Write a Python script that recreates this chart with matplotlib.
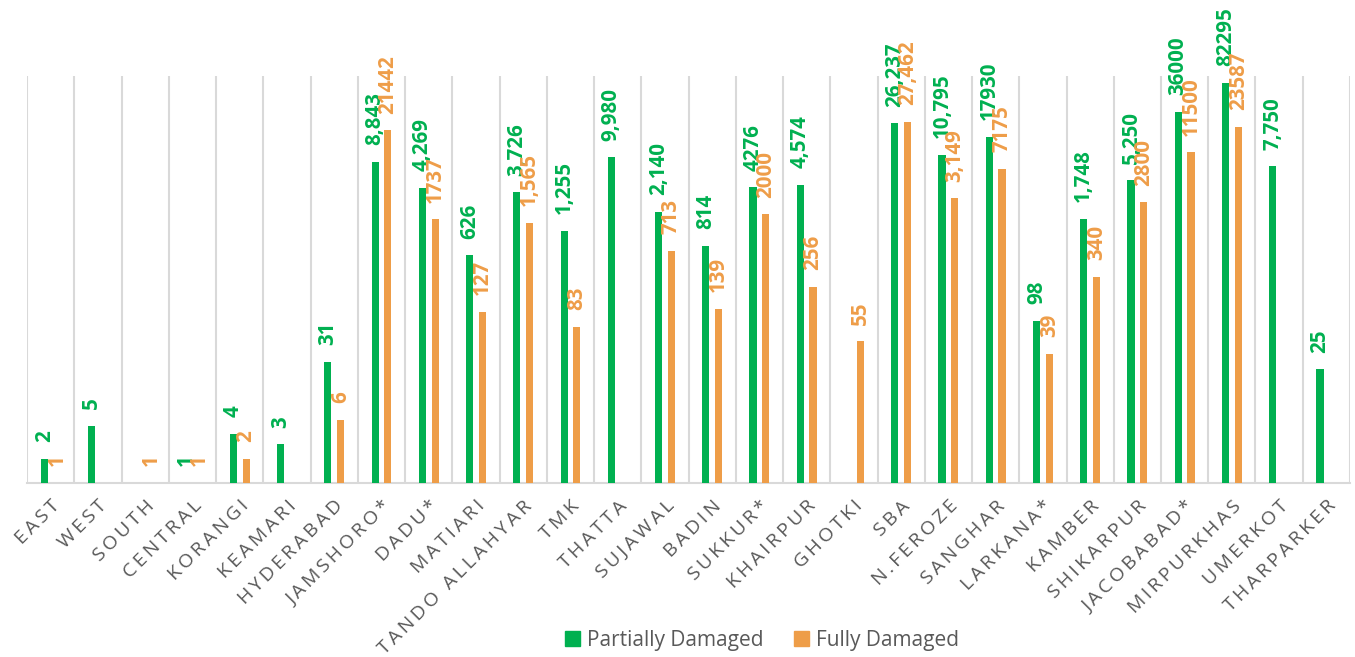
import numpy as np
import matplotlib
matplotlib.use("Agg")
import matplotlib.pyplot as plt
from matplotlib.patches import Patch

categories = ["EAST", "WEST", "SOUTH", "CENTRAL", "KORANGI", "KEAMARI", "HYDERABAD",
              "JAMSHORO*", "DADU*", "MATIARI", "TANDO ALLAHYAR", "TMK", "THATTA",
              "SUJAWAL", "BADIN", "SUKKUR*", "KHAIRPUR", "GHOTKI", "SBA", "N.FEROZE",
              "SANGHAR", "LARKANA*", "KAMBER", "SHIKARPUR", "JACOBABAD*", "MIRPURKHAS",
              "UMERKOT", "THARPARKER"]

nan = np.nan
partially = [2, 5, nan, 1, 4, 3, 31, 8843, 4269, 626, 3726, 1255, 9980, 2140, 814,
             4276, 4574, nan, 26237, 10795, 17930, 98, 1748, 5250, 36000, 82295, 7750, 25]
fully = [1, nan, 1, 1, 2, nan, 6, 21442, 1737, 127, 1565, 83, nan, 713, 139,
         2000, 256, 55, 27462, 3149, 7175, 39, 340, 2800, 11500, 23587, nan, nan]

partially_labels = ["2", "5", "", "1", "4", "3", "31", "8,843", "4,269", "626", "3,726",
                    "1,255", "9,980", "2,140", "814", "4276", "4,574", "", "26,237",
                    "10,795", "17930", "98", "1,748", "5,250", "36000", "82295", "7,750", "25"]
fully_labels = ["1", "", "1", "1", "2", "", "6", "21442", "1737", "127", "1,565", "83", "",
                "713", "139", "2000", "256", "55", "27,462", "3,149", "7175", "39", "340",
                "2800", "11500", "23587", "", ""]

GREEN = "#00B050"
ORANGE = "#EE9D48"
GRID = "#D9D9D9"
TEXT = "#595959"
FONT = ["Open Sans", "DejaVu Sans"]

fig = plt.figure(figsize=(13.55, 6.57), dpi=100)
ax = fig.add_axes([0.02, 0.2648, 0.9963 - 0.02, 0.8843 - 0.2648])

x = np.arange(len(categories))
w = 0.15
off = 0.135
ax.set_yscale("log")
ax.set_ylim(1, 1e5)
ax.set_xlim(-0.5, len(categories) - 0.5)

pv = np.array(partially, dtype=float)
fv = np.array(fully, dtype=float)
ax.bar(x - off, np.nan_to_num(pv, nan=1.0), width=w, bottom=0, color=GREEN, zorder=3)
ax.bar(x + off, np.nan_to_num(fv, nan=1.0), width=w, bottom=0, color=ORANGE, zorder=3)

for xi, v, lab in zip(x, pv, partially_labels):
    if lab:
        ax.annotate(lab, (xi - off, v), xytext=(0, 12), textcoords="offset points",
                    rotation=90, ha="center", va="bottom", color=GREEN,
                    fontsize=14.8, fontweight="bold", family=FONT,
                    annotation_clip=False, zorder=4)
for xi, v, lab in zip(x, fv, fully_labels):
    if lab:
        ax.annotate(lab, (xi + off, v), xytext=(0, 12), textcoords="offset points",
                    rotation=90, ha="center", va="bottom", color=ORANGE,
                    fontsize=14.8, fontweight="bold", family=FONT,
                    annotation_clip=False, zorder=4)

# category separators
ax.set_xticks(np.arange(-0.5, len(categories)), minor=True)
ax.grid(True, which="minor", axis="x", color=GRID, linewidth=1.5, zorder=0)
ax.grid(False, which="major")
ax.set_xticks(x)
ax.set_xticklabels(["\u2009".join(c) for c in categories], rotation=45, ha="right",
                   rotation_mode="anchor", fontsize=14, color=TEXT, family=FONT)
ax.tick_params(axis="x", which="both", length=0, pad=10)
ax.set_yticks([])
ax.yaxis.set_minor_locator(matplotlib.ticker.NullLocator())
for s in ["top", "left", "right"]:
    ax.spines[s].set_visible(False)
ax.spines["bottom"].set_color(GRID)
ax.spines["bottom"].set_linewidth(1.5)

handles = [Patch(color=GREEN, label="Partially Damaged"), Patch(color=ORANGE, label="Fully Damaged")]
fig.legend(handles=handles, loc="center", bbox_to_anchor=(0.5625, 0.025), ncol=2,
           frameon=False, prop={"family": FONT, "size": 15}, labelcolor=TEXT,
           handlelength=0.7, handleheight=0.7, handletextpad=0.35, columnspacing=1.45)

fig.savefig("out.png", dpi=100)
